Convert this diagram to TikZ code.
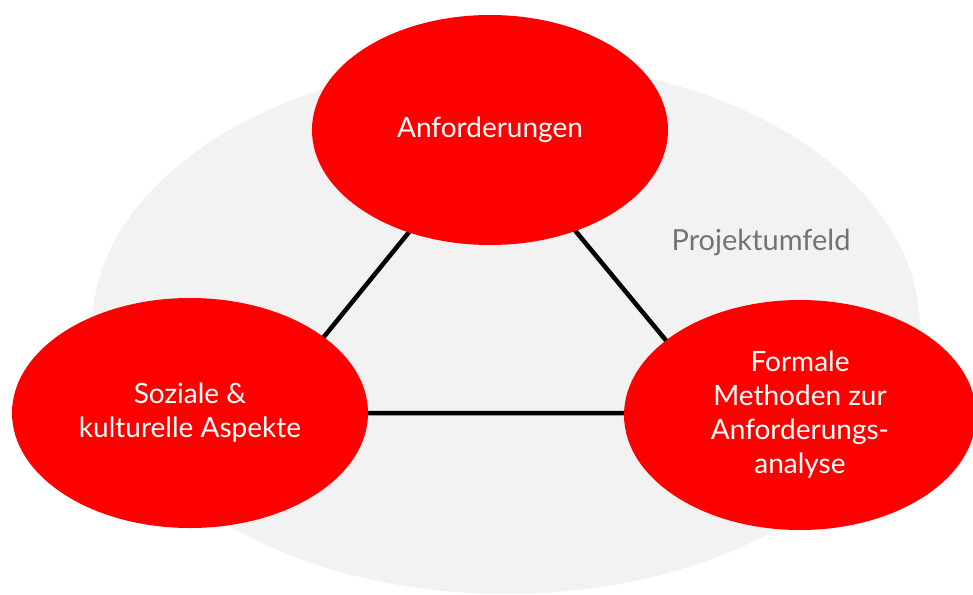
\documentclass[tikz,border=0pt]{standalone}
\usepackage{fontspec}
\setmainfont{Lato}
\usetikzlibrary{shapes.geometric}
\definecolor{umfeldgray}{HTML}{F2F2F2}
\definecolor{labelgray}{HTML}{737373}
\tikzset{
    bubble/.style={ellipse,fill=red,inner sep=0pt,minimum width=356pt,minimum height=230pt,
        text=white,align=center,font=\fontsize{28}{34}\selectfont},
    side/.style={line width=4.5pt,black}
}
\begin{document}
\begin{tikzpicture}[x=1pt,y=-1pt]
    %\draw[help lines] (0,0) grid (973,594);
    \useasboundingbox (0,0) rectangle (973,594);
    \fill[umfeldgray] (506,328) ellipse[x radius=414, y radius=266];
    \node[text=labelgray,font=\fontsize{29}{34}\selectfont] (umfeld) at(761,242) {Projektumfeld};
    \coordinate (ecke1) at(492,130);
    \coordinate (ecke2) at(262,413);
    \coordinate (ecke3) at(726,413);
    \draw[side] (ecke1) -- (ecke2) -- (ecke3) -- cycle;
    \node[bubble] (anf) at(490,130) {Anforderungen};
    \node[bubble] (sozial) at(190,413) {Soziale \&\\kulturelle Aspekte};
    \node[bubble,minimum width=352pt] (formal) at(800,415) {Formale\\Methoden zur\\Anforderungs-\\analyse};
\end{tikzpicture}
\end{document}
